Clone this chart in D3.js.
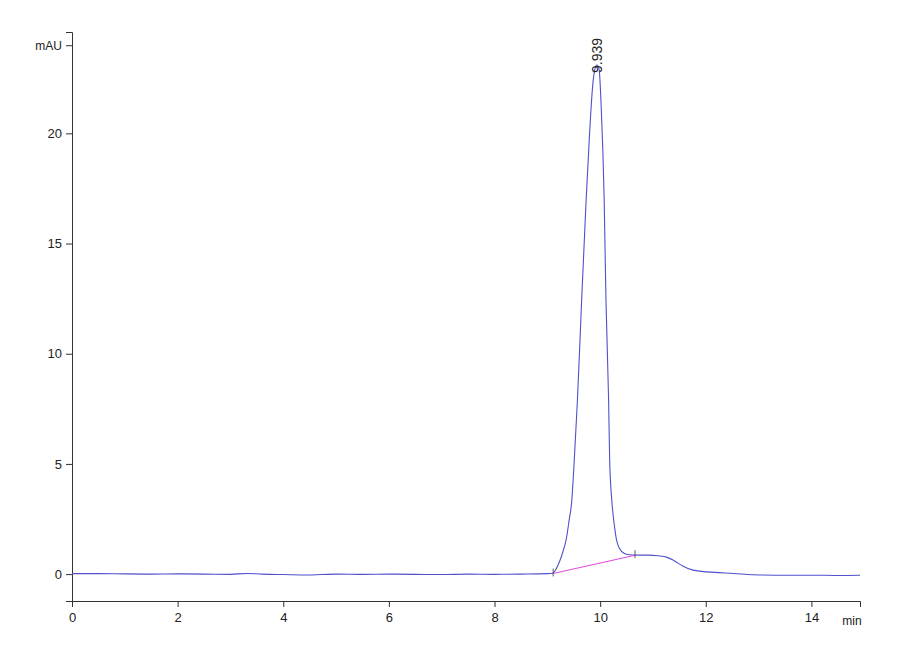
<!DOCTYPE html>
<html>
<head>
<meta charset="utf-8">
<script src="https://cdn.jsdelivr.net/npm/d3@7"></script>
<style>
  body { margin: 0; background: #fff; }
  text { font-family: "Liberation Sans Narrow", "Liberation Sans", Arial, sans-serif; fill: #222; }
</style>
</head>
<body>
<svg id="chart" width="900" height="660"></svg>
<script>
// retention time (min) and signal (mAU)
var times = [0, 0.5, 1, 1.5, 2, 2.5, 3, 3.3, 3.6, 4, 4.5, 4.7, 5, 5.5, 6, 6.5, 7, 7.5, 8, 8.5, 9.0, 9.1,
    9.17, 9.242, 9.30, 9.356, 9.413, 9.464, 9.51, 9.57, 9.65, 9.735, 9.80, 9.86, 9.90, 9.94, 9.98, 10.02,
    10.076, 10.11, 10.16, 10.18, 10.22, 10.27, 10.31, 10.37, 10.45, 10.55, 10.7, 10.9, 11.1, 11.27,
    11.38, 11.47, 11.57, 11.76, 12.03, 12.52, 13.03, 13.5, 14.0, 14.5, 14.92];
var signal = [0.02, 0.02, 0.01, 0.0, 0.01, 0.0, -0.01, 0.03, 0.0, -0.02, -0.04, -0.02, 0.0, -0.01, 0.0, -0.01, -0.02, 0.0, -0.01, 0.0, 0.02, 0.04,
    0.25, 0.64, 1.05, 1.55, 2.45, 3.36, 5.18, 7.9, 12.45, 17.0, 20.0, 22.2, 22.9, 23.1, 22.9, 21.2,
    17.0, 12.45, 7.9, 5.18, 3.36, 2.2, 1.55, 1.15, 0.95, 0.88, 0.86, 0.86, 0.83, 0.76,
    0.64, 0.5, 0.36, 0.18, 0.1, 0.03, -0.04, -0.05, -0.05, -0.06, -0.05];

// integration baseline of the peak
var baseT = [9.11, 10.66];
var baseV = [0.03, 0.86];

var peakTime = 9.939;
var peakLabel = "9.939";

var xMajor = [0, 2, 4, 6, 8, 10, 12, 14];
var yMajor = [0, 5, 10, 15, 20];

var svg = d3.select("#chart");

var x = d3.scaleLinear().domain([0, 14.92]).range([72, 860]);
var y = d3.scaleLinear().domain([-1.22, 24.6]).range([601, 32]);

// x axis, ticks pointing down
var xMinor = d3.range(0, 15, 0.5).filter(function (d) { return d % 2 !== 0; });
var gx = svg.append("g").attr("transform", "translate(0,601)");
gx.call(d3.axisBottom(x).tickValues(xMinor).tickSize(5).tickFormat(""));
gx.call(d3.axisBottom(x).tickValues(xMajor).tickSize(6).tickPadding(6).tickFormat(d3.format("d")));
gx.selectAll("path, line").attr("stroke", "#333");
gx.selectAll("text").style("font-size", "13px").attr("fill", "#222");
svg.append("text").attr("x", 852).attr("y", 625).attr("text-anchor", "middle")
    .style("font-size", "12px").text("min");

// y axis, ticks pointing left
var yMinor = d3.range(-1, 25, 1).filter(function (d) { return d % 5 !== 0 && d !== 24; });
var gy = svg.append("g").attr("transform", "translate(72,0)");
gy.call(d3.axisLeft(y).tickValues(yMinor).tickSize(3).tickFormat(""));
gy.call(d3.axisLeft(y).tickValues(yMajor.concat([24])).tickSize(6).tickPadding(4)
    .tickFormat(function (d) { return d === 24 ? "mAU" : d; }));
gy.selectAll("path, line").attr("stroke", "#333");
gy.selectAll("text").style("font-size", "13px").attr("fill", "#222");
gy.selectAll(".tick").filter(function (d) { return d === 24; }).select("text").style("font-size", "12px");

// trace
var pts = times.map(function (t, i) { return [t, signal[i]]; });
var line = d3.line()
    .x(function (d) { return x(d[0]); })
    .y(function (d) { return y(d[1]); })
    .curve(d3.curveMonotoneX);
svg.append("path").datum(pts)
    .attr("d", line)
    .attr("fill", "none")
    .attr("stroke", "#5050cc")
    .attr("stroke-width", 1.1);

// baseline + markers
svg.append("line")
    .attr("x1", x(baseT[0])).attr("y1", y(baseV[0]))
    .attr("x2", x(baseT[1])).attr("y2", y(baseV[1]))
    .attr("stroke", "#e050dc").attr("stroke-width", 1.1);
baseT.forEach(function (t, i) {
    svg.append("line")
        .attr("x1", x(t)).attr("x2", x(t))
        .attr("y1", y(baseV[i]) - 5).attr("y2", y(baseV[i]) + 3)
        .attr("stroke", "#333").attr("stroke-width", 0.8);
});

// peak label
svg.append("text")
    .attr("transform", "translate(" + (x(peakTime) + 5) + ",73) rotate(-90)")
    .style("font-size", "14px")
    .text(peakLabel);
</script>
</body>
</html>
